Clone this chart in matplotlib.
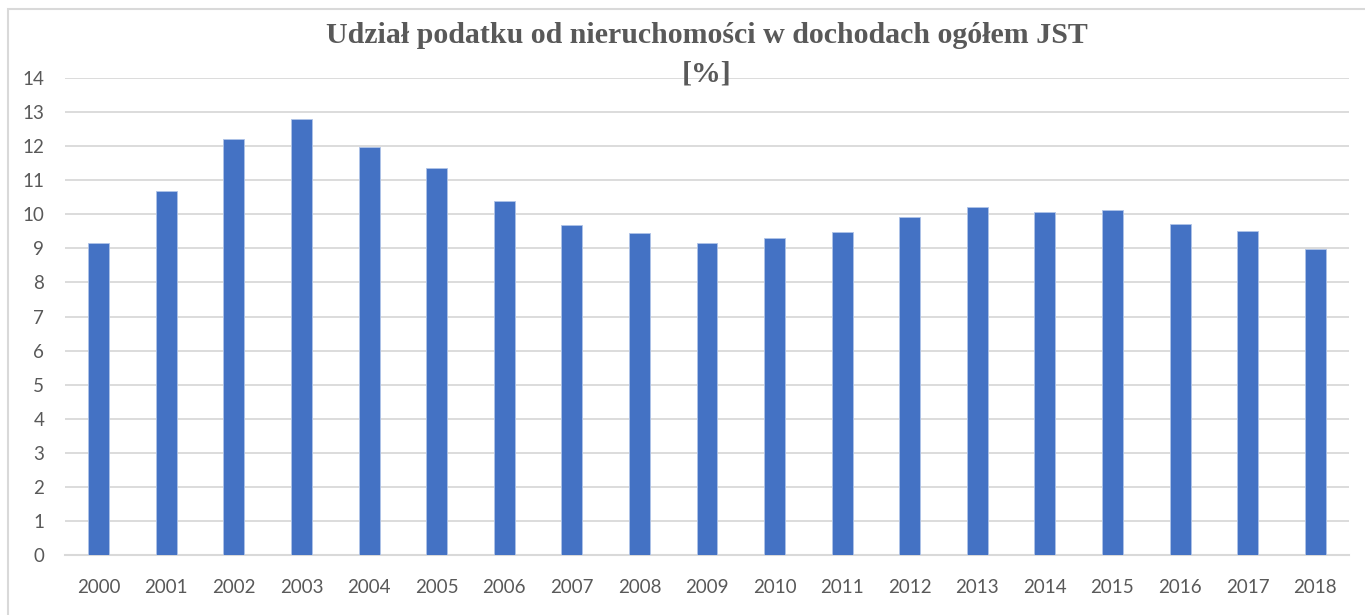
import matplotlib.pyplot as plt
from matplotlib.patches import Rectangle

# data
years = [str(y) for y in range(2000, 2019)]
shares = [9.16, 10.69, 12.21, 12.80, 11.98, 11.35, 10.39, 9.68, 9.44, 9.17,
          9.30, 9.49, 9.92, 10.21, 10.06, 10.13, 9.72, 9.50, 8.98]
y_ticks = list(range(0, 15))

title = "Udział podatku od nieruchomości w dochodach ogółem JST\n[%]"

grey_text = "#595959"
grid_col = "#D9D9D9"
bar_col = "#4472C4"

fig = plt.figure(figsize=(13.65, 6.15), dpi=100)
ax = fig.add_axes([65 / 1365, 1 - 555 / 615, (1349 - 65) / 1365, 477 / 615])

# chart frame
fig.patches.append(Rectangle((8 / 1365, -0.01), 1.0, 1 - 9 / 615 + 0.01,
                             transform=fig.transFigure, fill=False,
                             edgecolor="#D9D9D9", linewidth=1.5))

x = list(range(len(years)))
ax.bar(x, shares, width=0.31, color=bar_col, edgecolor="#AFC3E8",
       linewidth=0.6, zorder=3)

ax.set_xlim(-0.5, len(years) - 0.5)
ax.set_ylim(0, 14)
ax.set_yticks(y_ticks)
ax.set_xticks(x)
ax.set_xticklabels(years)

ax.yaxis.grid(True, color=grid_col, linewidth=1.3, zorder=0)
ax.set_axisbelow(True)
for side in ["top", "right", "left"]:
    ax.spines[side].set_visible(False)
ax.spines["bottom"].set_color(grid_col)
ax.spines["bottom"].set_linewidth(1.5)
ax.tick_params(axis="both", length=0, labelcolor=grey_text, labelsize=13.5)
ax.tick_params(axis="y", pad=15)
ax.tick_params(axis="x", pad=17)
for lab in ax.get_xticklabels() + ax.get_yticklabels():
    lab.set_family("Lato")

fig.text(0.518, 1 - 22 / 615, title, ha="center", va="top",
         family="Liberation Serif", fontweight="bold", fontsize=21.5,
         color=grey_text, linespacing=1.55)

fig.savefig("out.png", dpi=100)
